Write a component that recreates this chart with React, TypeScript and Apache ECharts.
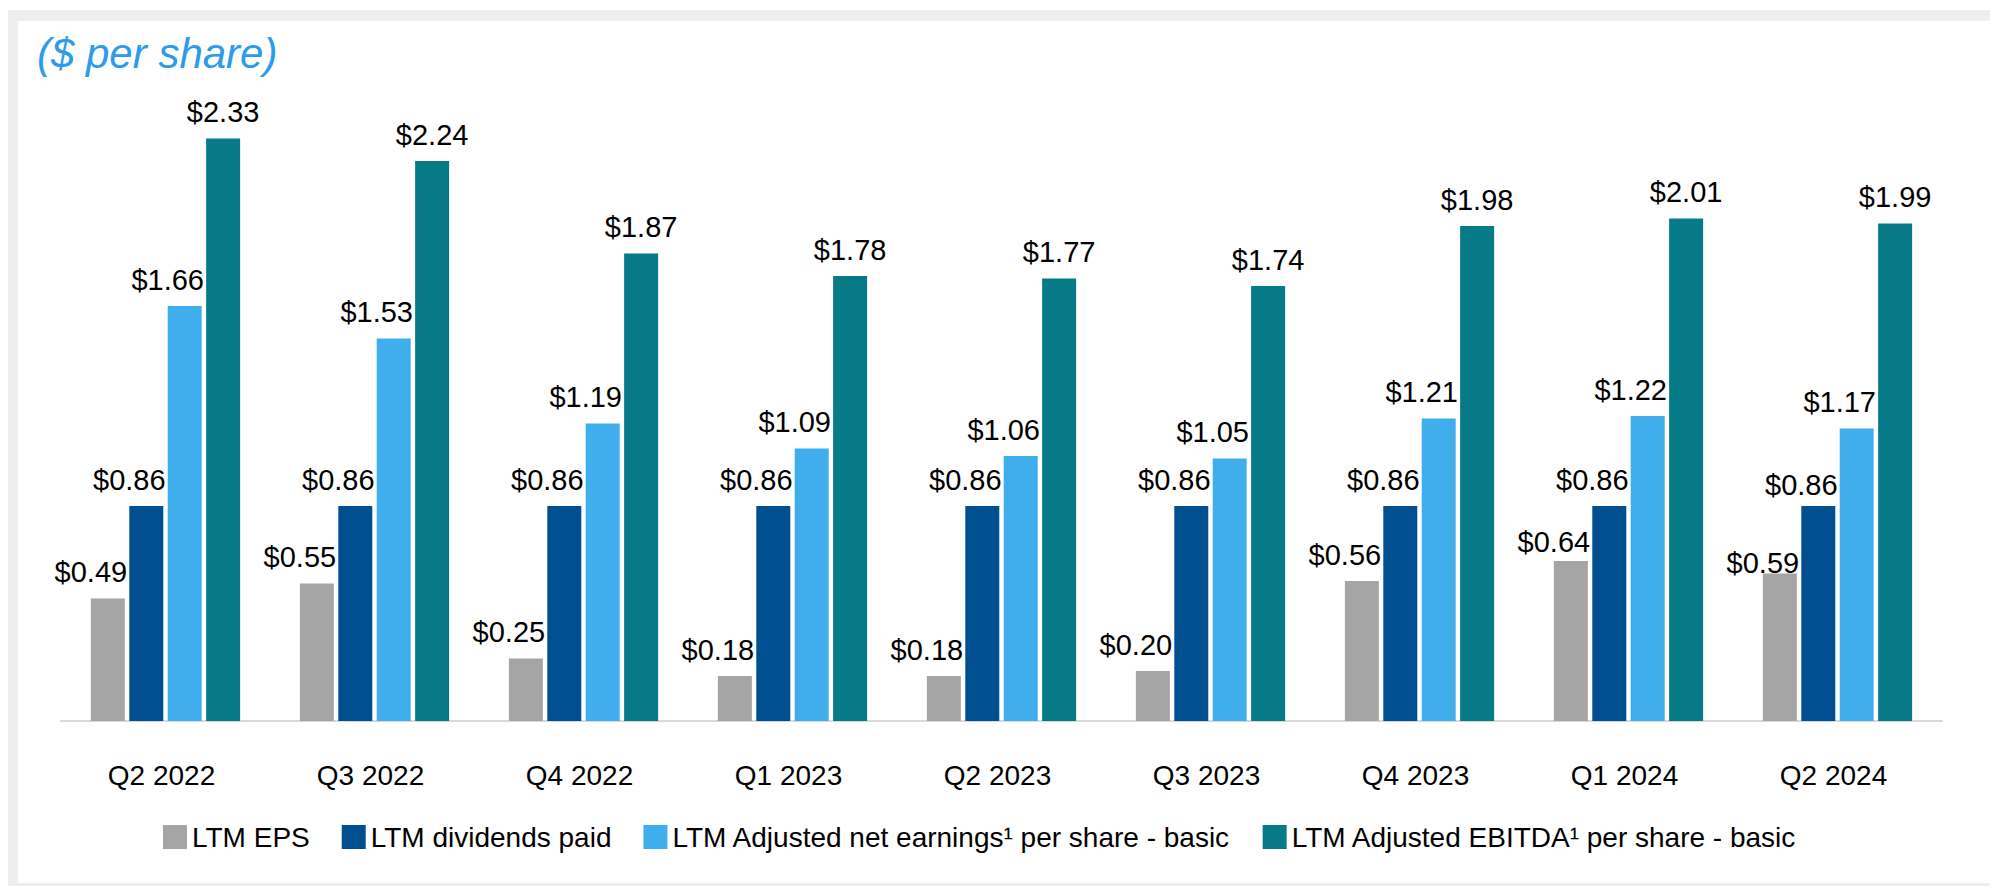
import React, { useEffect, useRef } from "react";
import * as echarts from "echarts";

const categories = ["Q2 2022", "Q3 2022", "Q4 2022", "Q1 2023", "Q2 2023", "Q3 2023", "Q4 2023", "Q1 2024", "Q2 2024"];
const seriesNames = [
  "LTM EPS",
  "LTM dividends paid",
  "LTM Adjusted net earnings\u00B9 per share - basic",
  "LTM Adjusted EBITDA\u00B9 per share - basic",
];
const ltmEps = [0.49, 0.55, 0.25, 0.18, 0.18, 0.2, 0.56, 0.64, 0.59];
const ltmDividends = [0.86, 0.86, 0.86, 0.86, 0.86, 0.86, 0.86, 0.86, 0.86];
const ltmAdjNetEarnings = [1.66, 1.53, 1.19, 1.09, 1.06, 1.05, 1.21, 1.22, 1.17];
const ltmAdjEbitda = [2.33, 2.24, 1.87, 1.78, 1.77, 1.74, 1.98, 2.01, 1.99];

// label nudges (style only)
const epsLabelDy = [0, 0, 0, 0, 0, 0, 0, 7, 16];
const divLabelDy = [0, 0, 0, 0, 0, 0, 0, 0, 5];

const colors = ["#A5A5A5", "#004F91", "#40AEEC", "#067A87"];
const FONT = "Liberation Sans";

export default function App() {
  const ref = useRef<HTMLDivElement>(null);
  useEffect(() => {
    if (!ref.current) return;
    const chart = echarts.init(ref.current, null, { renderer: "svg" });
    const mk = (name: string, values: number[], color: string, dx: number, dys: number[] | null) => ({
      type: "bar",
      name,
      barWidth: 34,
      barGap: "13%",
      itemStyle: { color },
      data: values.map((v, i) => ({
        value: v,
        label: { offset: [dx, dys ? dys[i] : 0] },
      })),
      label: {
        show: true,
        position: "top",
        distance: 12,
        fontSize: 29,
        fontFamily: FONT,
        color: "#000",
        formatter: (p: any) => "$" + Number(p.value).toFixed(2),
      },
    });
    chart.setOption({
      animation: false,
      backgroundColor: "#fff",
      title: {
        text: "($ per share)",
        left: 32,
        top: 27,
        textStyle: { fontSize: 42, fontStyle: "italic", fontWeight: "normal", color: "#2B9BEA", fontFamily: FONT },
      },
      legend: {
        data: seriesNames,
        left: 158,
        top: 818,
        icon: "rect",
        itemWidth: 24,
        itemHeight: 24,
        itemGap: 32,
        textStyle: { fontSize: 28, color: "#000", fontFamily: FONT },
      },
      grid: { left: 61, right: 48, top: 96, bottom: 165 },
      xAxis: {
        type: "category",
        data: categories,
        axisLine: { lineStyle: { color: "#D9D9D9", width: 2 } },
        axisTick: { show: false },
        axisLabel: { fontSize: 28, color: "#000", fontFamily: FONT, margin: 40, padding: [0, 8, 0, 0] },
      },
      yAxis: { type: "value", min: 0, max: 2.5, show: false, splitLine: { show: false } },
      graphic: [
        { type: "rect", shape: { x: 8, y: 10, width: 1982, height: 11 }, style: { fill: "#EEEEEE" } },
        { type: "rect", shape: { x: 8, y: 10, width: 10, height: 876 }, style: { fill: "#EEEEEE" } },
        { type: "rect", shape: { x: 8, y: 883, width: 1982, height: 3 }, style: { fill: "#EEEEEE" } },
      ],
      series: [
        mk(seriesNames[0], ltmEps, colors[0], -17, epsLabelDy),
        mk(seriesNames[1], ltmDividends, colors[1], -17, divLabelDy),
        mk(seriesNames[2], ltmAdjNetEarnings, colors[2], -17, null),
        mk(seriesNames[3], ltmAdjEbitda, colors[3], 0, null),
      ],
    });
    return () => chart.dispose();
  }, []);
  return (
    <div
      ref={ref}
      style={{ position: "absolute", left: 0, top: 0, width: 1990, height: 886, background: "#fff" }}
    />
  );
}
